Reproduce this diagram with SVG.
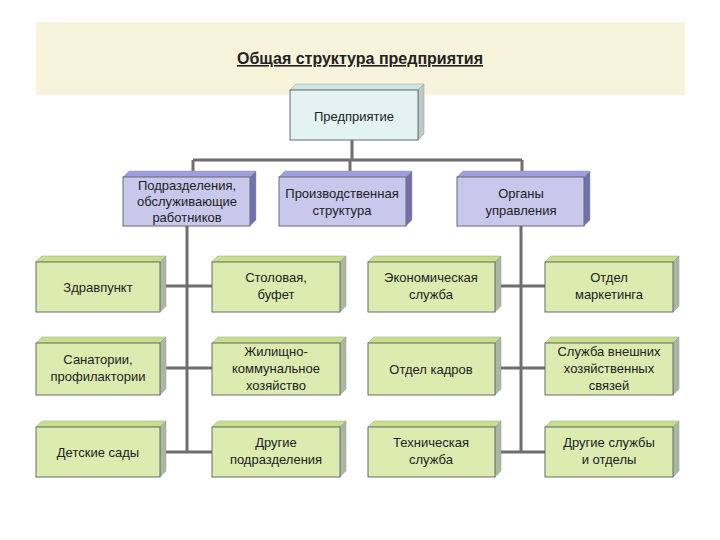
<svg xmlns="http://www.w3.org/2000/svg" width="720" height="540" viewBox="0 0 720 540">
<style>
text{font-family:"Liberation Sans",Arial,sans-serif;font-size:13px;fill:#222;text-anchor:middle}
.f{stroke:#6a6a6a;stroke-width:1}
.g .f{fill:#dcecb0}.g .t{fill:#c8df8a}.g .s{fill:#a9b8a0}
.p .f{fill:#c7c8ec}.p .t{fill:#9c9ee0}.p .s{fill:#6f70b0}
.b .f{fill:#e3f3f1}.b .t{fill:#cfe7e4}.b .s{fill:#b9cac8}
.t,.s{stroke:#999;stroke-width:0.5}
#conn path{stroke:#6e6e6e;stroke-width:3;fill:none}
</style>
<defs>
<linearGradient id="gg" x1="0" y1="0" x2="0" y2="1"><stop offset="0" stop-color="#eef6d2"/><stop offset="1" stop-color="#d4e8a0"/></linearGradient>
</defs>
<rect x="36" y="22" width="649" height="73" fill="#f8f4dc"/>
<text x="360" y="64" style="font-size:16px;font-weight:bold;text-decoration:underline">Общая структура предприятия</text>
<g id="conn">
<path d="M352 140V160M193 160H522M193 160V177M350 160V177M522 160V177"/>
<path d="M187 226V452M160 286H212M160 368H212M160 452H212"/>
<path d="M521 226V452M495 286H545M495 368H545M495 452H545"/>
</g>
<g id="n0" class="b"><path class="t" d="M290 90l6-6h128l-6 6z"/><path class="s" d="M418 90l6-6v50l-6 6z"/><rect class="f" x="290" y="90" width="128" height="50"/><text x="354" y="121">Предприятие</text></g>
<g id="n1" class="p"><path class="t" d="M123 177l6-6h127l-6 6z"/><path class="s" d="M250 177l6-6v49l-6 6z"/><rect class="f" x="123" y="177" width="127" height="49"/><text x="187" y="190">Подразделения,</text><text x="187" y="206">обслуживающие</text><text x="187" y="222">работников</text></g>
<g id="n2" class="p"><path class="t" d="M279 177l6-6h127l-6 6z"/><path class="s" d="M406 177l6-6v49l-6 6z"/><rect class="f" x="279" y="177" width="127" height="49"/><text x="342" y="198">Производственная</text><text x="342" y="215">структура</text></g>
<g id="n3" class="p"><path class="t" d="M457 177l6-6h127l-6 6z"/><path class="s" d="M584 177l6-6v49l-6 6z"/><rect class="f" x="457" y="177" width="127" height="49"/><text x="521" y="198">Органы</text><text x="521" y="215">управления</text></g>
<g class="g">
<g id="r1c1"><path class="t" d="M36 262l6-6h124l-6 6z"/><path class="s" d="M160 262l6-6v50l-6 6z"/><rect class="f" x="36" y="262" width="124" height="50" fill="url(#gg)"/><text x="98" y="292">Здравпункт</text></g>
<g id="r1c2"><path class="t" d="M212 262l6-6h128l-6 6z"/><path class="s" d="M340 262l6-6v50l-6 6z"/><rect class="f" x="212" y="262" width="128" height="50" fill="url(#gg)"/><text x="276" y="282">Столовая,</text><text x="276" y="299">буфет</text></g>
<g id="r1c3"><path class="t" d="M368 262l6-6h127l-6 6z"/><path class="s" d="M495 262l6-6v50l-6 6z"/><rect class="f" x="368" y="262" width="127" height="50" fill="url(#gg)"/><text x="431" y="282">Экономическая</text><text x="431" y="299">служба</text></g>
<g id="r1c4"><path class="t" d="M545 262l6-6h128l-6 6z"/><path class="s" d="M673 262l6-6v50l-6 6z"/><rect class="f" x="545" y="262" width="128" height="50" fill="url(#gg)"/><text x="609" y="282">Отдел</text><text x="609" y="299">маркетинга</text></g>
<g id="r2c1"><path class="t" d="M36 343l6-6h124l-6 6z"/><path class="s" d="M160 343l6-6v52l-6 6z"/><rect class="f" x="36" y="343" width="124" height="52" fill="url(#gg)"/><text x="98" y="364">Санатории,</text><text x="98" y="381">профилактории</text></g>
<g id="r2c2"><path class="t" d="M212 343l6-6h128l-6 6z"/><path class="s" d="M340 343l6-6v52l-6 6z"/><rect class="f" x="212" y="343" width="128" height="52" fill="url(#gg)"/><text x="276" y="356">Жилищно-</text><text x="276" y="373">коммунальное</text><text x="276" y="390">хозяйство</text></g>
<g id="r2c3"><path class="t" d="M368 343l6-6h127l-6 6z"/><path class="s" d="M495 343l6-6v52l-6 6z"/><rect class="f" x="368" y="343" width="127" height="52" fill="url(#gg)"/><text x="431" y="374">Отдел кадров</text></g>
<g id="r2c4"><path class="t" d="M545 343l6-6h128l-6 6z"/><path class="s" d="M673 343l6-6v52l-6 6z"/><rect class="f" x="545" y="343" width="128" height="52" fill="url(#gg)"/><text x="609" y="356">Служба внешних</text><text x="609" y="373">хозяйственных</text><text x="609" y="390">связей</text></g>
<g id="r3c1"><path class="t" d="M36 427l6-6h124l-6 6z"/><path class="s" d="M160 427l6-6v50l-6 6z"/><rect class="f" x="36" y="427" width="124" height="50" fill="url(#gg)"/><text x="98" y="457">Детские сады</text></g>
<g id="r3c2"><path class="t" d="M212 427l6-6h128l-6 6z"/><path class="s" d="M340 427l6-6v50l-6 6z"/><rect class="f" x="212" y="427" width="128" height="50" fill="url(#gg)"/><text x="276" y="447">Другие</text><text x="276" y="464">подразделения</text></g>
<g id="r3c3"><path class="t" d="M368 427l6-6h127l-6 6z"/><path class="s" d="M495 427l6-6v50l-6 6z"/><rect class="f" x="368" y="427" width="127" height="50" fill="url(#gg)"/><text x="431" y="447">Техническая</text><text x="431" y="464">служба</text></g>
<g id="r3c4"><path class="t" d="M545 427l6-6h128l-6 6z"/><path class="s" d="M673 427l6-6v50l-6 6z"/><rect class="f" x="545" y="427" width="128" height="50" fill="url(#gg)"/><text x="609" y="447">Другие службы</text><text x="609" y="464">и отделы</text></g>
</g>
</svg>
